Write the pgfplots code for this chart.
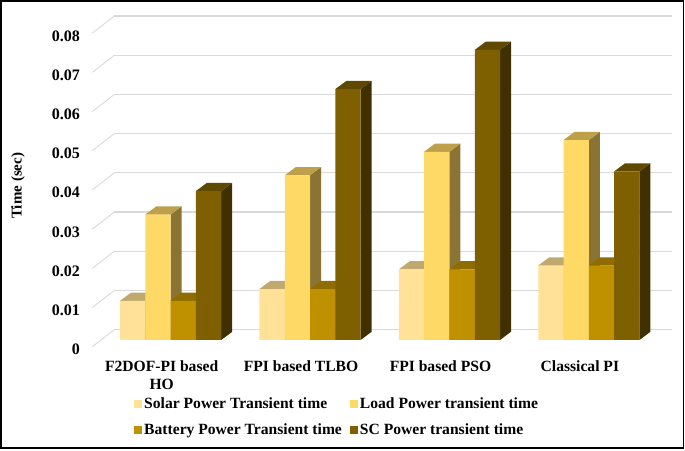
\documentclass[border=0pt]{standalone}
\usepackage{pgfplots}
\pgfplotsset{compat=1.18}
\usepackage{fontspec}
\setmainfont{Liberation Serif}
\definecolor{cSolar}{HTML}{FFE197}
\definecolor{cLoad}{HTML}{FFD966}
\definecolor{cBatt}{HTML}{BF9000}
\definecolor{cSC}{HTML}{7F6000}
\definecolor{tSolar}{HTML}{BFA96F}
\definecolor{tLoad}{HTML}{BDA049}
\definecolor{tBatt}{HTML}{8F6C00}
\definecolor{tSC}{HTML}{5F4800}
\definecolor{sSolar}{HTML}{80714B}
\definecolor{sLoad}{HTML}{8A7333}
\definecolor{sBatt}{HTML}{604800}
\definecolor{sSC}{HTML}{403000}
\pgfplotsset{swatch/.style={legend image code/.code={\fill[##1] (0pt,-4pt) rectangle (8pt,4pt);}}}
% side and top faces of one bar: group, position in group, value, top colour, side colour
\newcommand{\barfaces}[5]{%
  \pgfmathsetmacro{\xl}{#1-0.3635+0.1815*#2}%
  \pgfmathsetmacro{\xr}{\xl+0.1815}%
  \pgfmathsetmacro{\xd}{\xr+0.0789}%
  \pgfmathsetmacro{\xe}{\xl+0.0789}%
  \pgfmathsetmacro{\vt}{#3+0.00209}%
  \addplot[fill=#5,draw=none,forget plot] coordinates {(\xr,0)(\xd,0.00209)(\xd,\vt)(\xr,#3)} --cycle;
  \addplot[fill=#4,draw=none,forget plot] coordinates {(\xl,#3)(\xr,#3)(\xd,\vt)(\xe,\vt)} --cycle;
}
\newcommand{\bfont}{\fontsize{15.6}{18}\selectfont\bfseries}
\begin{document}
\begin{tikzpicture}
\useasboundingbox (0,0) rectangle (685pt,450pt);
\draw[black,line width=1.5pt] (1.2pt,2pt) rectangle (683.5pt,449pt);
\begin{axis}[
  at={(92.3pt,103.3pt)}, anchor=south west,
  scale only axis, width=579.7pt, height=330.4pt,
  xmin=-0.5622, xmax=3.5964, ymin=-0.00171, ymax=0.08258,
  clip=false, scaled y ticks=false,
  axis line style={draw=none}, major tick length=0pt,
  xtick={0,1,2,3},
  xticklabels={{F2DOF-PI based\\HO},{FPI based TLBO},{FPI based PSO},{Classical PI}},
  xticklabel style={font=\bfont,align=center,xshift=-9pt,anchor=north,yshift=-10.5pt},
  ytick={0,0.01,0.02,0.03,0.04,0.05,0.06,0.07,0.08},
  yticklabels={0,0.01,0.02,0.03,0.04,0.05,0.06,0.07,0.08},
  yticklabel style={font=\fontsize{16}{18}\selectfont\bfseries,anchor=east,yshift=-9.5pt,xshift=-9pt},
  ylabel={Time (sec)},
  every axis y label/.style={at={(axis description cs:-0.128,0.487)},rotate=90,anchor=center,font=\fontsize{15}{17}\selectfont\bfseries},
  legend columns=2,
  legend cell align=left,
  legend style={draw=none,fill=none,font=\bfont,at={(axis description cs:0.0720,-0.149)},anchor=north west,inner sep=0pt,row sep=9pt,
    /tikz/every even column/.append style={column sep=6pt}},
]
% back wall grid lines and side wall lines
\addplot[color=black!15,line width=1.2pt,forget plot,unbounded coords=jump] table {
-0.4044 0.00263
3.5964 0.00263
nan nan
-0.4044 0.01263
3.5964 0.01263
nan nan
-0.4044 0.02263
3.5964 0.02263
nan nan
-0.4044 0.03263
3.5964 0.03263
nan nan
-0.4044 0.04263
3.5964 0.04263
nan nan
-0.4044 0.05263
3.5964 0.05263
nan nan
-0.4044 0.06263
3.5964 0.06263
nan nan
-0.4044 0.07263
3.5964 0.07263
nan nan
-0.4044 0.08263
3.5964 0.08263
};
\addplot[color=black!15,line width=0.9pt,forget plot,unbounded coords=jump] table {
-0.5622 -0.00171
-0.4044 0.00263
nan nan
-0.5622 0.00829
-0.4044 0.01263
nan nan
-0.5622 0.01829
-0.4044 0.02263
nan nan
-0.5622 0.02829
-0.4044 0.03263
nan nan
-0.5622 0.03829
-0.4044 0.04263
nan nan
-0.5622 0.04829
-0.4044 0.05263
nan nan
-0.5622 0.05829
-0.4044 0.06263
nan nan
-0.5622 0.06829
-0.4044 0.07263
nan nan
-0.5622 0.07829
-0.4044 0.08263
};
% Solar
\barfaces{0}{0}{0.010}{tSolar}{sSolar}
\barfaces{1}{0}{0.013}{tSolar}{sSolar}
\barfaces{2}{0}{0.018}{tSolar}{sSolar}
\barfaces{3}{0}{0.019}{tSolar}{sSolar}
\addplot[ybar,swatch,bar width=25.3pt,bar shift=-37.95pt,fill=cSolar,draw=none] coordinates {(0,0.010)(1,0.013)(2,0.018)(3,0.019)};
\addlegendentry{Solar Power Transient time}
% Load
\barfaces{0}{1}{0.032}{tLoad}{sLoad}
\barfaces{1}{1}{0.042}{tLoad}{sLoad}
\barfaces{2}{1}{0.048}{tLoad}{sLoad}
\barfaces{3}{1}{0.051}{tLoad}{sLoad}
\addplot[ybar,swatch,bar width=25.3pt,bar shift=-12.65pt,fill=cLoad,draw=none] coordinates {(0,0.032)(1,0.042)(2,0.048)(3,0.051)};
\addlegendentry{Load Power transient time}
% Battery
\barfaces{0}{2}{0.010}{tBatt}{sBatt}
\barfaces{1}{2}{0.013}{tBatt}{sBatt}
\barfaces{2}{2}{0.018}{tBatt}{sBatt}
\barfaces{3}{2}{0.019}{tBatt}{sBatt}
\addplot[ybar,swatch,bar width=25.3pt,bar shift=12.65pt,fill=cBatt,draw=none] coordinates {(0,0.010)(1,0.013)(2,0.018)(3,0.019)};
\addlegendentry{Battery Power Transient time}
% SC
\barfaces{0}{3}{0.038}{tSC}{sSC}
\barfaces{1}{3}{0.064}{tSC}{sSC}
\barfaces{2}{3}{0.074}{tSC}{sSC}
\barfaces{3}{3}{0.043}{tSC}{sSC}
\addplot[ybar,swatch,bar width=25.3pt,bar shift=37.95pt,fill=cSC,draw=none] coordinates {(0,0.038)(1,0.064)(2,0.074)(3,0.043)};
\addlegendentry{SC Power transient time}
\end{axis}
\end{tikzpicture}
\end{document}
